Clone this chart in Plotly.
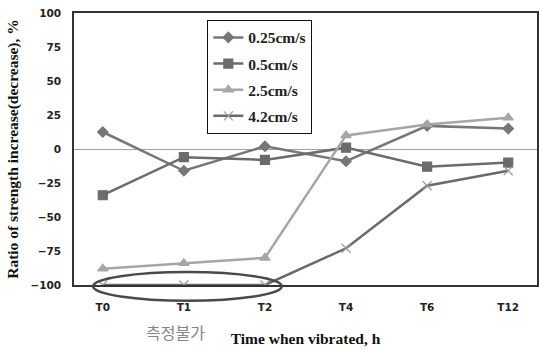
import plotly.graph_objects as go

categories = ["T0", "T1", "T2", "T4", "T6", "T12"]
series_names = ["0.25cm/s", "0.5cm/s", "2.5cm/s", "4.2cm/s"]
v_025 = [12.5, -16, 2, -9, 17, 15]
v_05 = [-34, -6, -8, 1, -13, -10]
v_25 = [-88, -84, -80, 10, 18, 23]
v_42 = [-100, -100, -100, -73, -27, -16]
y_ticks = [100, 75, 50, 25, 0, -25, -50, -75, -100]

styles = [
    dict(color="#777777", symbol="diamond", size=8, mcolor="#777777"),
    dict(color="#6b6b6b", symbol="square", size=9, mcolor="#6b6b6b"),
    dict(color="#a6a6a6", symbol="triangle-up", size=9, mcolor="#a6a6a6"),
    dict(color="#6a6a6a", symbol="x-thin", size=9, mcolor="#9a9a9a"),
]

fig = go.Figure()
for name, vals, st in zip(series_names, [v_025, v_05, v_25, v_42], styles):
    fig.add_trace(go.Scatter(
        x=categories, y=vals, name=name, mode="lines+markers",
        legendgroup=name,
        line=dict(color=st["color"], width=2.5),
        marker=dict(symbol=st["symbol"], size=st["size"], color=st["mcolor"],
                    line=dict(color=st["mcolor"], width=1.2)),
    ))

fig.update_layout(
    width=539, height=350,
    margin=dict(l=74, r=0, t=13, b=65),
    plot_bgcolor="white", paper_bgcolor="white",
    showlegend=True,
    legend=dict(
        x=0.288, y=0.975, xanchor="left", yanchor="top",
        bordercolor="#111111", borderwidth=1, bgcolor="white",
        font=dict(family="Liberation Serif", size=15.5, color="#222222", weight="bold"),
        tracegroupgap=3,
    ),
    xaxis=dict(
        type="category", showgrid=False, showline=True, linecolor="#333333",
        linewidth=1.5, mirror=True, ticks="", ticklabelstandoff=12,
        tickfont=dict(family="DejaVu Sans", size=10.5, color="#222222", weight="bold"),
        title=dict(text="Time when vibrated, h", standoff=21,
                   font=dict(family="Liberation Serif", size=15.5, color="#111111", weight="bold")),
    ),
    yaxis=dict(
        range=[-100, 100], tickvals=y_ticks, showgrid=False, showline=True,
        linecolor="#333333", linewidth=1.5, mirror=True, ticks="",
        ticklabelstandoff=9,
        zeroline=True, zerolinecolor="#a0a0a0", zerolinewidth=1,
        tickfont=dict(family="DejaVu Sans", size=10.5, color="#222222", weight="bold"),
        title=dict(text="Ratio of strength increase(decrease), %", standoff=8,
                   font=dict(family="Liberation Serif", size=15.5, color="#111111", weight="bold")),
    ),
)

fig.add_shape(type="circle", xref="x domain", yref="y domain",
              x0=0.041, x1=0.449, y0=-0.058, y1=0.048,
              line=dict(color="#4a4a4a", width=2.5))

fig.add_annotation(text="측정불가", xref="paper", yref="paper",
                   x=0.219, y=-0.173, xanchor="center", yanchor="middle",
                   showarrow=False,
                   font=dict(family="Noto Sans CJK KR", size=16, color="#858585"))

fig.write_html("out.html")
